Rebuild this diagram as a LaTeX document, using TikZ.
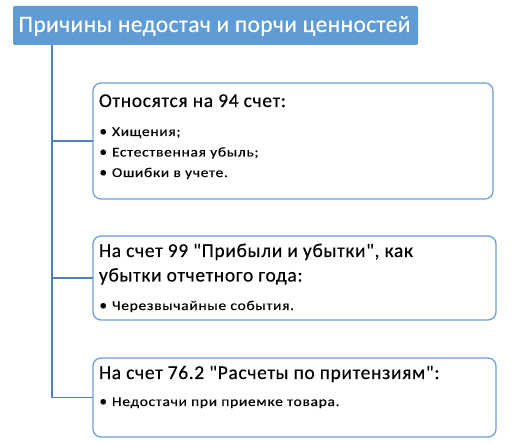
\documentclass[tikz,border=0pt]{standalone}
\usepackage{fontspec}
\setmainfont{Carlito}[Ligatures=TeXOff]
\newfontfamily\titlefont{Carlito}[Ligatures=TeXOff, LetterSpace=1.5, FakeBold=0.2]
\newfontfamily\headfont{Carlito}[Ligatures=TeXOff, LetterSpace=3.3, FakeBold=0.3]
\newfontfamily\bulfont{Carlito}[Ligatures=TeXOff, LetterSpace=5, FakeStretch=1.15, FakeBold=0.3]
\newfontfamily\dotfont{Carlito}[Ligatures=TeXOff, FakeBold=0.6]
\definecolor{titlefill}{RGB}{95,155,213}
\definecolor{spinecol}{RGB}{79,129,189}
\definecolor{boxborder}{RGB}{108,160,218}
\tikzset{
  titlebox/.style={fill=titlefill, draw=none, rounded corners=2pt, inner sep=0pt, outer sep=0pt, anchor=north west},
  itembox/.style={draw=boxborder, line width=1.3pt, rounded corners=8pt, fill=white, inner sep=0pt, outer sep=0pt, anchor=north west},
  conn/.style={draw=spinecol, line width=1.3pt},
  txt/.style={inner sep=0pt, outer sep=0pt, anchor=base west},
  headtxt/.style={txt, font=\headfont\fontsize{19.5pt}{23pt}\selectfont},
  bultxt/.style={txt, font=\bulfont\fontsize{13.5pt}{16pt}\selectfont},
  dottxt/.style={txt, font=\dotfont\fontsize{15pt}{17pt}\selectfont},
  titletxt/.style={txt, text=white, font=\titlefont\fontsize{23.5pt}{27pt}\selectfont},
}
\begin{document}
\begin{tikzpicture}[x=1pt,y=1pt]
\useasboundingbox (0,0) rectangle (514,-443);
% title
\node[titlebox, minimum width=405pt, minimum height=39pt] (title) at (13,-6) {};
\node[titletxt] (titlet) at (18.5,-32) {Причины недостач и порчи ценностей};
% boxes
\node[itembox, minimum width=400pt, minimum height=116pt] (b1) at (93,-83) {};
\node[itembox, minimum width=403pt, minimum height=84pt] (b2) at (93,-236) {};
\node[itembox, minimum width=403pt, minimum height=79pt] (b3) at (93,-358) {};
% connectors
\coordinate (spine) at (52,-45);
\draw[conn] (spine) |- (b3.west);
\draw[conn] (spine) |- (b1.west);
\draw[conn] (spine) |- (b2.west);
% box 1 text
\node[headtxt] (h1) at (99,-107) {Относятся на 94 счет:};
\node[dottxt] (d11) at (99.5,-136) {•};
\node[bultxt] (t11) at (112,-136) {Хищения;};
\node[dottxt] (d12) at (99.5,-156.5) {•};
\node[bultxt] (t12) at (112,-156.5) {Естественная убыль;};
\node[dottxt] (d13) at (99.5,-177) {•};
\node[bultxt] (t13) at (112,-177) {Ошибки в учете.};
% box 2 text
\node[headtxt] (h2a) at (99,-257) {На счет 99 "Прибыли и убытки", как};
\node[headtxt] (h2b) at (99,-281.5) {убытки отчетного года:};
\node[dottxt] (d21) at (99.5,-310) {•};
\node[bultxt] (t21) at (112,-310) {Черезвычайные события.};
% box 3 text
\node[headtxt] (h3) at (99,-379) {На счет 76.2 "Расчеты по притензиям":};
\node[dottxt] (d31) at (99.5,-406) {•};
\node[bultxt] (t31) at (112,-406) {Недостачи при приемке товара.};
\end{tikzpicture}
\end{document}
